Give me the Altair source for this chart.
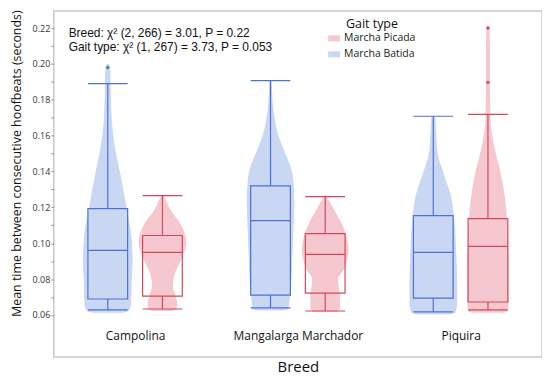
import altair as alt
import pandas as pd

# ---------------- data ----------------
breeds = ["Campolina", "Mangalarga Marchador", "Piquira"]
gaits = ["Marcha Picada", "Marcha Batida"]          # legend order
fill_colors = ["#f5c8cf", "#c9d7f3"]
line_colors = ["#d4485b", "#4d72d6"]

# box statistics (lower whisker, Q1, median, Q3, upper whisker) per breed
bat_lo = [0.0628, 0.0639, 0.0617]
bat_q1 = [0.0689, 0.0710, 0.0694]
bat_med = [0.0960, 0.1126, 0.0949]
bat_q3 = [0.1193, 0.1320, 0.1154]
bat_hi = [0.1890, 0.1907, 0.1708]

pic_lo = [0.0633, 0.0622, 0.0628]
pic_q1 = [0.0705, 0.0722, 0.0672]
pic_med = [0.0949, 0.0938, 0.0982]
pic_q3 = [0.1043, 0.1054, 0.1137]
pic_hi = [0.1265, 0.1260, 0.1719]

outlier_breed = ["Campolina", "Piquira", "Piquira"]
outlier_gait = ["Marcha Batida", "Marcha Picada", "Marcha Picada"]
outlier_val = [0.1980, 0.2200, 0.1897]

# violin outlines: values and relative half-widths (density)
cam_bat_v = [0.0612, 0.0622, 0.0660, 0.0766, 0.0910, 0.1076, 0.1226, 0.1376, 0.1560, 0.1740, 0.1900, 0.1970, 0.2000]
cam_bat_d = [14, 21, 23.5, 24, 25, 23, 18, 13, 6.5, 3.5, 2.8, 2.5, 1.2]
cam_pic_v = [0.0622, 0.0632, 0.0660, 0.0710, 0.0766, 0.0822, 0.0910, 0.1004, 0.1115, 0.1187, 0.1235, 0.1268]
cam_pic_d = [10, 14, 15, 13, 10.5, 12, 19, 24, 17.5, 8, 4, 1]
mm_bat_v = [0.0625, 0.0635, 0.0672, 0.0783, 0.0932, 0.1076, 0.1226, 0.1376, 0.1500, 0.1600, 0.1740, 0.1850, 0.1907]
mm_bat_d = [14, 18, 19, 21, 22, 23, 24, 22.5, 15, 8, 3, 1.5, 1]
mm_pic_v = [0.0615, 0.0625, 0.0655, 0.0710, 0.0766, 0.0800, 0.0855, 0.0966, 0.1099, 0.1187, 0.1235, 0.1268]
mm_pic_d = [10, 14, 15, 15, 13.5, 13, 19, 23.5, 17.5, 9, 4, 1]
piq_bat_v = [0.0603, 0.0612, 0.0661, 0.0772, 0.0960, 0.1143, 0.1270, 0.1381, 0.1514, 0.1600, 0.1708]
piq_bat_d = [16, 22, 24, 24, 23, 21, 17.5, 11, 4, 3, 2]
piq_pic_v = [0.0612, 0.0622, 0.0683, 0.0866, 0.1050, 0.1237, 0.1400, 0.1547, 0.1650, 0.1710, 0.1900, 0.2070, 0.2215]
piq_pic_d = [16, 20, 21, 21, 20, 17.5, 12.5, 6, 3, 2.5, 2, 2, 1.5]

y_ticks = [0.06, 0.07, 0.08, 0.09, 0.10, 0.11, 0.12, 0.13, 0.14, 0.15, 0.16,
           0.17, 0.18, 0.19, 0.20, 0.21, 0.22]
annotation_lines = ["Breed: χ² (2, 266) = 3.01, P = 0.22",
                    "Gait type: χ² (1, 267) = 3.73, P = 0.053"]

# ---------------- tables ----------------
violin_sets = [
    ("Campolina", "Marcha Batida", cam_bat_v, cam_bat_d),
    ("Campolina", "Marcha Picada", cam_pic_v, cam_pic_d),
    ("Mangalarga Marchador", "Marcha Batida", mm_bat_v, mm_bat_d),
    ("Mangalarga Marchador", "Marcha Picada", mm_pic_v, mm_pic_d),
    ("Piquira", "Marcha Batida", piq_bat_v, piq_bat_d),
    ("Piquira", "Marcha Picada", piq_pic_v, piq_pic_d),
]
vrows = []
for br, g, vs, ds in violin_sets:
    for v, d in zip(vs, ds):
        vrows.append({"breed": br, "b": breeds.index(br), "gait": g,
                      "grp": br + "|" + g, "v": v, "w": d})
vdf = pd.DataFrame(vrows)

brows = []
for i, br in enumerate(breeds):
    brows.append({"breed": br, "b": i, "gait": "Marcha Batida", "lo": bat_lo[i],
                  "q1": bat_q1[i], "med": bat_med[i], "q3": bat_q3[i], "hi": bat_hi[i]})
    brows.append({"breed": br, "b": i, "gait": "Marcha Picada", "lo": pic_lo[i],
                  "q1": pic_q1[i], "med": pic_med[i], "q3": pic_q3[i], "hi": pic_hi[i]})
bdf = pd.DataFrame(brows)

odf = pd.DataFrame({"breed": outlier_breed, "gait": outlier_gait, "v": outlier_val})
odf["b"] = [breeds.index(x) for x in odf["breed"]]

# ---------------- scales / axes ----------------
FONT = "Open Sans"
xscale = alt.Scale(domain=[-0.5, 2.5], nice=False, zero=False)
yscale = alt.Scale(domain=[0.0365, 0.2295], nice=False, zero=False)
label_expr = "[" + ",".join("'" + b + "'" for b in breeds) + "][round(datum.value)]"
xaxis = alt.Axis(values=[0, 1, 2], labelExpr=label_expr, grid=False, ticks=False,
                 domain=False, offset=-27, labelPadding=0, labelFontSize=12,
                 labelFont=FONT, labelColor="#111", titleFont=FONT, titleFontSize=15,
                 titleFontWeight="normal", titleColor="#111", titlePadding=19)
yaxis = alt.Axis(values=y_ticks, grid=False, domain=False,
                 labelExpr="round(datum.value*100) % 2 == 0 ? format(datum.value, '.2f') : ''",
                 tickSize=3, tickColor="#999", labelPadding=1, labelFontSize=9,
                 labelFont=FONT, labelColor="#333", titleFont=FONT, titleFontSize=12.5,
                 titleFontWeight="normal", titleColor="#111", titlePadding=9,
                 titleY=153)

XT = "Breed"
YT = "Mean time between consecutive hoofbeats (seconds)"


def X(f):
    return alt.X(f, type="quantitative", scale=xscale, axis=xaxis, title=XT)


def Y(f):
    return alt.Y(f, type="quantitative", scale=yscale, axis=yaxis, title=YT)


stroke_enc = alt.Stroke("gait:N", scale=alt.Scale(domain=gaits, range=line_colors), legend=None)

OFF = "(datum.gait === 'Marcha Batida' ? -0.168 : 0.168)"
DW = 1 / 164.0   # density -> x units
BW = 0.122       # half box width


def pos(chart):
    return chart.transform_calculate(xc="datum.b + " + OFF).transform_calculate(
        xl="datum.xc - %f" % BW, xr="datum.xc + %f" % BW)


violin = alt.Chart(vdf).transform_calculate(
    xc="datum.b + " + OFF
).transform_calculate(
    xl="datum.xc - datum.w * %f" % DW, xr="datum.xc + datum.w * %f" % DW
).mark_area(orient="horizontal", interpolate="monotone", opacity=1).encode(
    y=Y("v"),
    x=X("xl"),
    x2="xr:Q",
    fill=alt.Fill("gait:N", scale=alt.Scale(domain=gaits, range=fill_colors),
                  legend=alt.Legend(
                      orient="none", legendX=276, legendY=7, title="Gait type",
                      titleFont=FONT, titleFontSize=12.5, titleFontWeight="normal",
                      titleColor="#111", titleAnchor="middle", titlePadding=2,
                      labelFont=FONT, labelFontSize=10.5, labelColor="#222", labelOffset=4,
                      symbolType="M-1,-0.5L1,-0.5L1,0.5L-1,0.5Z", symbolSize=144,
                      symbolStrokeWidth=0, symbolOpacity=1, rowPadding=4, padding=0)),
    detail="grp:N",
)

box = pos(alt.Chart(bdf)).mark_rect(fillOpacity=0, strokeWidth=1.2).encode(
    x=X("xl"), x2="xr:Q", y=Y("q1"), y2="q3:Q", stroke=stroke_enc)
median = pos(alt.Chart(bdf)).mark_rule(strokeWidth=1.2).encode(
    x=X("xl"), x2="xr:Q", y=Y("med"), stroke=stroke_enc)
cap_lo = pos(alt.Chart(bdf)).mark_rule(strokeWidth=1.2).encode(
    x=X("xl"), x2="xr:Q", y=Y("lo"), stroke=stroke_enc)
cap_hi = pos(alt.Chart(bdf)).mark_rule(strokeWidth=1.2).encode(
    x=X("xl"), x2="xr:Q", y=Y("hi"), stroke=stroke_enc)
wh_lo = pos(alt.Chart(bdf)).mark_rule(strokeWidth=1.2).encode(
    x=X("xc"), y=Y("lo"), y2="q1:Q", stroke=stroke_enc)
wh_hi = pos(alt.Chart(bdf)).mark_rule(strokeWidth=1.2).encode(
    x=X("xc"), y=Y("q3"), y2="hi:Q", stroke=stroke_enc)
outl = alt.Chart(odf).transform_calculate(xc="datum.b + " + OFF).mark_point(
    filled=True, size=11, opacity=1, shape="circle").encode(
    x=X("xc"), y=Y("v"),
    fill=alt.Fill("gait:N", scale=alt.Scale(domain=gaits, range=line_colors), legend=None))

note = alt.Chart(pd.DataFrame({"t": [0]})).mark_text(
    text=annotation_lines, align="left", baseline="top", font="Liberation Sans",
    fontSize=12, lineHeight=14, color="#111").encode(
    x=alt.value(15), y=alt.value(17))

chart = alt.layer(violin, box, median, cap_lo, cap_hi, wh_lo, wh_hi, outl, note).resolve_scale(
    fill="independent"
).properties(
    width=491, height=348,
    padding={"left": 2, "top": 0, "right": 0, "bottom": 0},
).configure_view(stroke="#c8c8c8", strokeWidth=1.5)

chart.save("out.html", embed_options={"renderer": "svg", "actions": False})
